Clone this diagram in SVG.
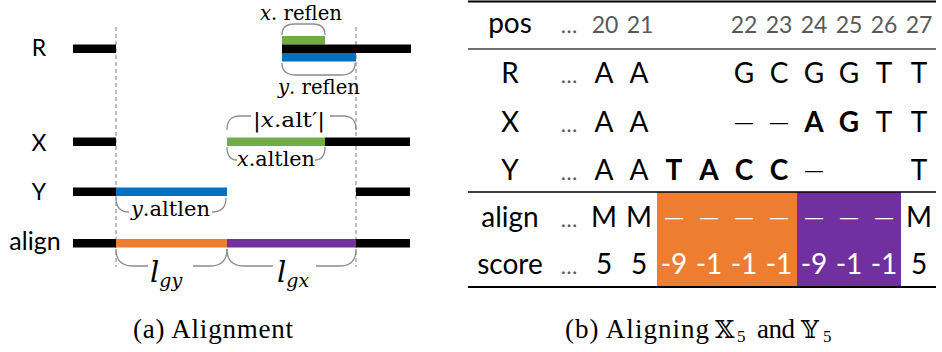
<svg xmlns="http://www.w3.org/2000/svg" width="942" height="352" viewBox="0 0 942 352">
<style>
.lbl{font-family:Lato,"Liberation Sans",sans-serif;fill:#000;text-anchor:middle}
.m{font-family:"DejaVu Serif","Liberation Serif",serif;font-size:21px;fill:#000}
.it{font-style:italic}
.lg{font-family:"DejaVu Serif","Liberation Serif",serif;font-style:italic;font-size:29px;fill:#000}
.sub{font-size:19px}
.brace{fill:none;stroke:#8c8c8c;stroke-width:1.3}
.dash{stroke:#7f7f7f;stroke-width:1;stroke-dasharray:4 3}
.t{font-family:Lato,"Liberation Sans",sans-serif;font-size:28px;fill:#000;text-anchor:middle}
.gap{font-family:"Liberation Sans",Arial,sans-serif;font-size:18px;fill:#000;text-anchor:middle}
.num{font-family:Lato,"Liberation Sans",sans-serif;font-size:23px;fill:#595959;text-anchor:middle}
.dots{font-family:Lato,"Liberation Sans",sans-serif;font-size:22px;fill:#595959;text-anchor:middle}
.w{fill:#fff}
.b{font-weight:bold}
.cap{font-family:"Liberation Serif",serif;font-size:27px;fill:#000}
.bb{font-family:"DejaVu Serif","DejaVu Sans",serif;font-size:25px}
.s5{font-size:17px}
</style>
<rect width="942" height="352" fill="#fff"/>

<!-- (a) Alignment -->
<g id="guides">
<line class="dash" x1="116" y1="27" x2="116" y2="267"/>
<line class="dash" x1="356" y1="27" x2="356" y2="267"/>
</g>
<g id="row-R">
<text class="lbl" x="39" y="56" font-size="23">R</text>
<rect x="73" y="44.5" width="43" height="8.5" fill="#000"/>
<rect x="282" y="36" width="43" height="8.5" fill="#70AD47"/>
<rect x="282" y="44.5" width="129" height="8.5" fill="#000"/>
<rect x="282" y="53" width="74" height="8.5" fill="#0070C0"/>
</g>
<g id="row-X">
<text class="lbl" x="39" y="151" font-size="23">X</text>
<rect x="73" y="137.5" width="43" height="8.5" fill="#000"/>
<rect x="227" y="137.5" width="98" height="8.5" fill="#70AD47"/>
<rect x="325" y="137.5" width="85" height="8.5" fill="#000"/>
</g>
<g id="row-Y">
<text class="lbl" x="39" y="200" font-size="23">Y</text>
<rect x="73" y="187.5" width="43" height="8.5" fill="#000"/>
<rect x="116" y="187.5" width="111" height="8.5" fill="#0070C0"/>
<rect x="356" y="187.5" width="54" height="8.5" fill="#000"/>
</g>
<g id="row-align">
<text class="lbl" x="35" y="250" font-size="25">align</text>
<rect x="73" y="239" width="43" height="8.5" fill="#000"/>
<rect x="116" y="239" width="111" height="8.5" fill="#ED7D31"/>
<rect x="227" y="239" width="129" height="8.5" fill="#7030A0"/>
<rect x="356" y="239" width="54" height="8.5" fill="#000"/>
</g>
<g id="braces">
<path class="brace" d="M282,35 C282,27 286,24 294,24 L313,24 C321,24 325,27 325,35"/>
<path class="brace" d="M282,63 C282,71 287,75 296,75 L341,75 C350,75 355,71 355,63"/>
<path class="brace" d="M227,130 C227,120 231,116 240,116 L251,116"/>
<path class="brace" d="M330,116 L343,116 C352,116 356,120 356,130"/>
<path class="brace" d="M227,147 C227,156 230,160 237,160"/>
<path class="brace" d="M315,160 C321,160 325,156 325,147"/>
<path class="brace" d="M116,198 C116,207 120,212 129,212"/>
<path class="brace" d="M212,212 C221,212 226,207 226,198"/>
<path class="brace" d="M116,249 C116,260 121,266 133,266 L148,266"/>
<path class="brace" d="M193,266 L210,266 C222,266 227,260 227,249"/>
<path class="brace" d="M227,249 C227,260 232,266 244,266 L273,266"/>
<path class="brace" d="M316,266 L340,266 C351,266 356,260 356,249"/>
</g>
<g id="brace-labels">
<text class="m" x="260" y="20" font-size="20" style="font-size:20px" textLength="82" lengthAdjust="spacingAndGlyphs"><tspan class="it">x</tspan>. reflen</text>
<text class="m" x="278" y="94" style="font-size:20px" textLength="82" lengthAdjust="spacingAndGlyphs"><tspan class="it">y</tspan>. reflen</text>
<text class="m" x="253" y="127" textLength="72" lengthAdjust="spacingAndGlyphs">|<tspan class="it">x</tspan>.alt′|</text>
<text class="m" x="237" y="166" textLength="78" lengthAdjust="spacingAndGlyphs"><tspan class="it">x</tspan>.altlen</text>
<text class="m" x="131" y="216" textLength="79" lengthAdjust="spacingAndGlyphs"><tspan class="it">y</tspan>.altlen</text>
<text class="lg" x="150" y="282">l<tspan class="sub" dy="5">gy</tspan></text>
<text class="lg" x="277" y="282">l<tspan class="sub" dy="5">gx</tspan></text>
</g>

<!-- (b) table -->
<g id="table">
<rect x="657" y="192" width="140" height="94" fill="#ED7D31"/>
<rect x="797" y="192" width="104" height="94" fill="#7030A0"/>
<line x1="468" y1="1.5" x2="936" y2="1.5" stroke="#000" stroke-width="2"/>
<line x1="468" y1="49" x2="936" y2="49" stroke="#404040" stroke-width="1.5"/>
<line x1="468" y1="192" x2="936" y2="192" stroke="#000" stroke-width="1.5"/>
<line x1="468" y1="287" x2="936" y2="287" stroke="#000" stroke-width="2"/>
</g>
<g id="row-pos">
<text class="t" x="510" y="33">pos</text>
<text class="dots" x="569" y="33">…</text>
<text class="num" x="605" y="33">20</text>
<text class="num" x="640" y="33">21</text>
<text class="num" x="744" y="33">22</text>
<text class="num" x="779" y="33">23</text>
<text class="num" x="814" y="33">24</text>
<text class="num" x="849" y="33">25</text>
<text class="num" x="884" y="33">26</text>
<text class="num" x="919" y="33">27</text>
</g>
<g id="trow-R">
<text class="t" x="510" y="83">R</text>
<text class="dots" x="569" y="83">…</text>
<text class="t" x="604" y="83">A</text>
<text class="t" x="639" y="83">A</text>
<text class="t" x="744" y="83">G</text>
<text class="t" x="779" y="83">C</text>
<text class="t" x="814" y="83">G</text>
<text class="t" x="849" y="83">G</text>
<text class="t" x="884" y="83">T</text>
<text class="t" x="919" y="83">T</text>
</g>
<g id="trow-X">
<text class="t" x="510" y="132">X</text>
<text class="dots" x="569" y="132">…</text>
<text class="t" x="604" y="132">A</text>
<text class="t" x="639" y="132">A</text>
<text class="gap" x="744" y="128">—</text>
<text class="gap" x="779" y="128">—</text>
<text class="t b" x="814" y="132">A</text>
<text class="t b" x="849" y="132">G</text>
<text class="t" x="884" y="132">T</text>
<text class="t" x="919" y="132">T</text>
</g>
<g id="trow-Y">
<text class="t" x="510" y="180">Y</text>
<text class="dots" x="569" y="180">…</text>
<text class="t" x="604" y="180">A</text>
<text class="t" x="639" y="180">A</text>
<text class="t b" x="674" y="180">T</text>
<text class="t b" x="709" y="180">A</text>
<text class="t b" x="744" y="180">C</text>
<text class="t b" x="779" y="180">C</text>
<text class="gap" x="814" y="176">—</text>
<text class="t" x="919" y="180">T</text>
</g>
<g id="trow-align">
<text class="t" x="510" y="227">align</text>
<text class="dots" x="569" y="227">…</text>
<text class="t" x="604" y="227">M</text>
<text class="t" x="639" y="227">M</text>
<text class="gap w" x="674" y="223">—</text>
<text class="gap w" x="709" y="223">—</text>
<text class="gap w" x="744" y="223">—</text>
<text class="gap w" x="779" y="223">—</text>
<text class="gap w" x="814" y="223">—</text>
<text class="gap w" x="849" y="223">—</text>
<text class="gap w" x="884" y="223">—</text>
<text class="t" x="919" y="227">M</text>
</g>
<g id="trow-score">
<text class="t" x="510" y="274">score</text>
<text class="dots" x="569" y="274">…</text>
<text class="t" x="604" y="274">5</text>
<text class="t" x="639" y="274">5</text>
<text class="t w" x="674" y="274">-9</text>
<text class="t w" x="709" y="274">-1</text>
<text class="t w" x="744" y="274">-1</text>
<text class="t w" x="779" y="274">-1</text>
<text class="t w" x="814" y="274">-9</text>
<text class="t w" x="849" y="274">-1</text>
<text class="t w" x="884" y="274">-1</text>
<text class="t" x="919" y="274">5</text>
</g>

<g id="captions">
<text class="cap" x="133" y="338" textLength="160">(a) Alignment</text>
<text class="cap" x="565" y="338" textLength="144">(b) Aligning</text>
<text class="cap bb" x="715" y="338">𝕏</text>
<text class="cap s5" x="737" y="342">5</text>
<text class="cap" x="757" y="338" textLength="38">and</text>
<text class="cap bb" x="801" y="338">𝕐</text>
<text class="cap s5" x="823" y="342">5</text>
</g>
</svg>
